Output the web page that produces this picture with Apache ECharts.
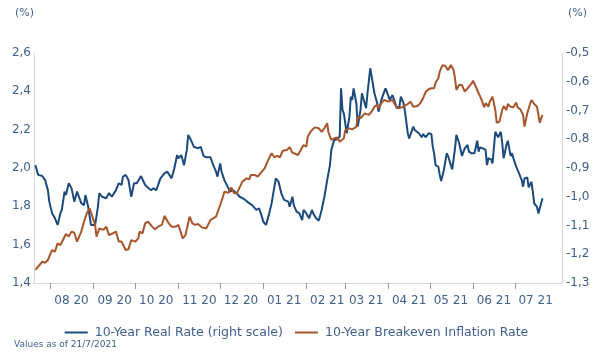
<!DOCTYPE html>
<html>
<head>
<meta charset="utf-8">
<script src="https://cdn.jsdelivr.net/npm/echarts@6/dist/echarts.min.js"></script>
<style>html,body{margin:0;padding:0;background:#fff;}#c{width:593px;height:356px;}</style>
</head>
<body>
<div id="c"></div>
<script>
// ---- data ----
var axisStart = '2020-07-20';
var axisEnd = '2021-08-04';
var leftTicks = [1.4, 1.6, 1.8, 2.0, 2.2, 2.4, 2.6];
var rightTicks = [-1.3, -1.2, -1.1, -1.0, -0.9, -0.8, -0.7, -0.6, -0.5];
var seriesNames = ['10-Year Real Rate (right scale)', '10-Year Breakeven Inflation Rate'];

var realDates = ['2020-07-21','2020-07-23','2020-07-26','2020-07-28','2020-07-30','2020-07-31','2020-08-02','2020-08-04','2020-08-06','2020-08-08','2020-08-09','2020-08-11','2020-08-12','2020-08-14','2020-08-16','2020-08-18','2020-08-20','2020-08-23','2020-08-25','2020-08-26','2020-08-28','2020-08-30','2020-09-02','2020-09-04','2020-09-05','2020-09-07','2020-09-10','2020-09-12','2020-09-14','2020-09-17','2020-09-19','2020-09-21','2020-09-22','2020-09-24','2020-09-26','2020-09-28','2020-09-30','2020-10-02','2020-10-05','2020-10-08','2020-10-12','2020-10-14','2020-10-16','2020-10-19','2020-10-22','2020-10-24','2020-10-27','2020-10-29','2020-10-31','2020-11-01','2020-11-03','2020-11-05','2020-11-07','2020-11-08','2020-11-10','2020-11-12','2020-11-15','2020-11-17','2020-11-19','2020-11-21','2020-11-24','2020-11-26','2020-11-28','2020-11-29','2020-12-01','2020-12-02','2020-12-04','2020-12-05','2020-12-07','2020-12-08','2020-12-10','2020-12-13','2020-12-15','2020-12-17','2020-12-19','2020-12-22','2020-12-24','2020-12-27','2020-12-29','2020-12-31','2021-01-01','2021-01-03','2021-01-05','2021-01-07','2021-01-08','2021-01-10','2021-01-12','2021-01-14','2021-01-16','2021-01-19','2021-01-20','2021-01-22','2021-01-23','2021-01-25','2021-01-27','2021-01-29','2021-01-30','2021-02-01','2021-02-03','2021-02-05','2021-02-06','2021-02-08','2021-02-10','2021-02-12','2021-02-14','2021-02-16','2021-02-18','2021-02-19','2021-02-21','2021-02-23','2021-02-25','2021-02-26','2021-02-27','2021-02-28','2021-03-02','2021-03-04','2021-03-05','2021-03-06','2021-03-07','2021-03-09','2021-03-10','2021-03-12','2021-03-13','2021-03-15','2021-03-16','2021-03-17','2021-03-19','2021-03-20','2021-03-22','2021-03-23','2021-03-24','2021-03-25','2021-03-27','2021-03-29','2021-03-30','2021-03-31','2021-04-02','2021-04-04','2021-04-06','2021-04-07','2021-04-09','2021-04-10','2021-04-12','2021-04-13','2021-04-14','2021-04-15','2021-04-16','2021-04-19','2021-04-20','2021-04-23','2021-04-25','2021-04-26','2021-04-28','2021-04-30','2021-05-02','2021-05-03','2021-05-04','2021-05-05','2021-05-07','2021-05-08','2021-05-09','2021-05-11','2021-05-13','2021-05-14','2021-05-16','2021-05-17','2021-05-19','2021-05-20','2021-05-22','2021-05-24','2021-05-26','2021-05-28','2021-05-29','2021-05-31','2021-06-02','2021-06-04','2021-06-05','2021-06-06','2021-06-08','2021-06-10','2021-06-11','2021-06-12','2021-06-14','2021-06-15','2021-06-17','2021-06-18','2021-06-19','2021-06-21','2021-06-22','2021-06-23','2021-06-25','2021-06-26','2021-06-28','2021-06-29','2021-06-30','2021-07-01','2021-07-02','2021-07-04','2021-07-06','2021-07-07','2021-07-08','2021-07-10','2021-07-11','2021-07-13','2021-07-14','2021-07-15','2021-07-17','2021-07-18','2021-07-19','2021-07-20','2021-07-21'];
var realValues = [-0.890,-0.924,-0.928,-0.942,-0.977,-1.017,-1.057,-1.074,-1.098,-1.057,-1.046,-0.982,-0.994,-0.953,-0.970,-1.017,-0.982,-1.022,-1.029,-0.994,-1.035,-1.098,-1.098,-1.035,-0.987,-1.000,-1.005,-0.987,-1.000,-0.977,-0.953,-0.959,-0.930,-0.924,-0.942,-1.000,-0.953,-0.953,-0.928,-0.959,-0.977,-0.971,-0.977,-0.936,-0.918,-0.913,-0.936,-0.901,-0.855,-0.866,-0.855,-0.890,-0.837,-0.785,-0.803,-0.826,-0.832,-0.826,-0.858,-0.863,-0.863,-0.890,-0.913,-0.930,-0.884,-0.913,-0.942,-0.936,-0.971,-0.982,-0.977,-0.988,-1.000,-1.005,-1.011,-1.023,-1.029,-1.046,-1.040,-1.069,-1.087,-1.098,-1.063,-1.023,-1.023,-0.936,-0.948,-0.988,-1.011,-1.017,-1.035,-1.000,-1.030,-1.052,-1.058,-1.081,-1.046,-1.058,-1.075,-1.046,-1.058,-1.075,-1.083,-1.046,-1.000,-0.942,-0.890,-0.837,-0.803,-0.800,-0.791,-0.623,-0.698,-0.710,-0.779,-0.722,-0.652,-0.663,-0.623,-0.675,-0.756,-0.698,-0.640,-0.675,-0.692,-0.640,-0.553,-0.582,-0.640,-0.646,-0.675,-0.704,-0.663,-0.635,-0.623,-0.635,-0.663,-0.646,-0.675,-0.692,-0.687,-0.652,-0.675,-0.704,-0.704,-0.779,-0.797,-0.756,-0.768,-0.779,-0.793,-0.782,-0.793,-0.779,-0.782,-0.826,-0.849,-0.890,-0.895,-0.924,-0.945,-0.907,-0.849,-0.858,-0.890,-0.905,-0.832,-0.785,-0.814,-0.858,-0.832,-0.820,-0.843,-0.849,-0.849,-0.805,-0.843,-0.828,-0.832,-0.837,-0.890,-0.866,-0.870,-0.884,-0.774,-0.768,-0.793,-0.774,-0.814,-0.866,-0.820,-0.805,-0.858,-0.849,-0.866,-0.872,-0.895,-0.918,-0.942,-0.965,-0.936,-0.933,-0.967,-0.948,-0.982,-1.023,-1.035,-1.058,-1.060,-1.023,-1.005];

var beDates = ['2020-07-21','2020-07-24','2020-07-26','2020-07-28','2020-07-30','2020-07-31','2020-08-02','2020-08-04','2020-08-06','2020-08-08','2020-08-09','2020-08-12','2020-08-14','2020-08-16','2020-08-18','2020-08-20','2020-08-23','2020-08-25','2020-08-27','2020-08-29','2020-08-31','2020-09-02','2020-09-03','2020-09-05','2020-09-08','2020-09-10','2020-09-12','2020-09-14','2020-09-17','2020-09-19','2020-09-21','2020-09-22','2020-09-24','2020-09-26','2020-09-28','2020-10-01','2020-10-03','2020-10-04','2020-10-06','2020-10-08','2020-10-10','2020-10-13','2020-10-15','2020-10-18','2020-10-20','2020-10-22','2020-10-25','2020-10-27','2020-10-30','2020-11-01','2020-11-02','2020-11-04','2020-11-06','2020-11-07','2020-11-09','2020-11-11','2020-11-13','2020-11-15','2020-11-18','2020-11-21','2020-11-24','2020-11-26','2020-11-28','2020-12-01','2020-12-03','2020-12-04','2020-12-07','2020-12-09','2020-12-11','2020-12-13','2020-12-15','2020-12-17','2020-12-20','2020-12-22','2020-12-23','2020-12-26','2020-12-28','2020-12-31','2021-01-02','2021-01-04','2021-01-07','2021-01-09','2021-01-11','2021-01-13','2021-01-15','2021-01-18','2021-01-20','2021-01-22','2021-01-23','2021-01-26','2021-01-28','2021-01-30','2021-02-01','2021-02-02','2021-02-04','2021-02-05','2021-02-07','2021-02-10','2021-02-12','2021-02-14','2021-02-16','2021-02-17','2021-02-19','2021-02-21','2021-02-23','2021-02-25','2021-02-28','2021-03-01','2021-03-04','2021-03-06','2021-03-09','2021-03-10','2021-03-12','2021-03-15','2021-03-16','2021-03-18','2021-03-20','2021-03-22','2021-03-24','2021-03-25','2021-03-27','2021-03-29','2021-03-30','2021-04-01','2021-04-04','2021-04-06','2021-04-08','2021-04-11','2021-04-14','2021-04-17','2021-04-19','2021-04-22','2021-04-24','2021-04-26','2021-04-28','2021-04-30','2021-05-02','2021-05-04','2021-05-05','2021-05-06','2021-05-07','2021-05-08','2021-05-10','2021-05-12','2021-05-13','2021-05-14','2021-05-16','2021-05-18','2021-05-19','2021-05-20','2021-05-22','2021-05-24','2021-05-26','2021-05-28','2021-05-29','2021-05-31','2021-06-01','2021-06-03','2021-06-05','2021-06-07','2021-06-09','2021-06-10','2021-06-12','2021-06-13','2021-06-15','2021-06-17','2021-06-18','2021-06-20','2021-06-22','2021-06-23','2021-06-25','2021-06-26','2021-06-28','2021-06-30','2021-07-02','2021-07-03','2021-07-05','2021-07-07','2021-07-08','2021-07-10','2021-07-12','2021-07-13','2021-07-15','2021-07-17','2021-07-18','2021-07-19','2021-07-20','2021-07-21'];
var beValues = [1.468,1.494,1.511,1.506,1.520,1.537,1.572,1.563,1.607,1.598,1.598,1.656,1.642,1.668,1.662,1.616,1.668,1.720,1.764,1.790,1.746,1.703,1.642,1.685,1.677,1.694,1.650,1.656,1.668,1.616,1.616,1.607,1.572,1.576,1.624,1.616,1.633,1.668,1.659,1.711,1.720,1.694,1.680,1.697,1.703,1.750,1.711,1.694,1.694,1.703,1.703,1.633,1.650,1.650,1.746,1.711,1.703,1.708,1.690,1.685,1.729,1.737,1.746,1.807,1.850,1.876,1.871,1.899,1.868,1.868,1.899,1.929,1.946,1.941,1.963,1.963,1.955,1.981,1.998,2.033,2.077,2.056,2.063,2.056,2.090,2.094,2.108,2.080,2.077,2.068,2.094,2.120,2.111,2.163,2.189,2.181,2.212,2.207,2.189,2.207,2.233,2.184,2.146,2.155,2.160,2.137,2.155,2.198,2.207,2.202,2.215,2.268,2.259,2.285,2.294,2.277,2.294,2.320,2.329,2.311,2.338,2.355,2.351,2.346,2.355,2.329,2.311,2.317,2.329,2.346,2.320,2.323,2.338,2.364,2.398,2.411,2.416,2.416,2.445,2.442,2.468,2.503,2.537,2.532,2.537,2.511,2.537,2.511,2.468,2.407,2.433,2.433,2.398,2.416,2.424,2.442,2.455,2.424,2.390,2.358,2.317,2.338,2.320,2.346,2.372,2.303,2.236,2.242,2.303,2.323,2.303,2.334,2.320,2.317,2.341,2.317,2.306,2.277,2.216,2.285,2.334,2.355,2.334,2.320,2.323,2.236,2.259,2.277];

// ---- build ----
function isoDay(t){ return new Date(t).toISOString().slice(0,10); }
var categories = [];
(function(){
  var s = Date.parse(axisStart + 'T00:00:00Z'), e = Date.parse(axisEnd + 'T00:00:00Z');
  for (var t = s; t <= e; t += 86400000) categories.push(isoDay(t));
})();
function pairs(d, v){ return d.map(function(x,i){ return [x, v[i]]; }); }
function fmt(v){ return v.toFixed(1).replace('.', ','); }
function isMonthStart(v){ return v.slice(8) === '01' && v.slice(0,7) !== '2021-08'; }

var txt = '#3f5f8c';
var axisGrey = '#d9d9d9';
var tickGrey = '#9a9a9a';
var font = 'DejaVu Sans';

var chart = echarts.init(document.getElementById('c'), null, {renderer:'canvas'});
chart.setOption({
  animation: false,
  backgroundColor: '#ffffff',
  textStyle: {fontFamily: font},
  grid: {left: 34, right: 31, top: 53, bottom: 73, containLabel: false},
  legend: {
    top: 321, left: 'center', itemGap: 12,
    icon: 'rect', itemWidth: 23, itemHeight: 2,
    textStyle: {color: txt, fontSize: 12.5, fontFamily: font, padding: [0,0,0,2]},
    data: seriesNames
  },
  graphic: [
    {type:'text', left: 15, top: 8, style:{text:'(%)', fill: txt, font: '11px "' + font + '"'}},
    {type:'text', left: 568, top: 8, style:{text:'(%)', fill: txt, font: '11px "' + font + '"'}},
    {type:'text', left: 14, top: 340, style:{text:'Values as of 21/7/2021', fill: txt, font: '9px "' + font + '"'}}
  ],
  xAxis: {
    type: 'category', data: categories, boundaryGap: false,
    axisLine: {show: true, lineStyle: {color: axisGrey, width: 1}},
    axisTick: {show: true, length: 6, lineStyle: {color: tickGrey, width: 1},
      interval: function(i, v){ return isMonthStart(categories[i] || v); }},
    axisLabel: {color: txt, fontSize: 12, margin: 12, hideOverlap: false,
      interval: function(i, v){ return (categories[i] || v).slice(8) === '16'; },
      formatter: function(v){ return v.slice(5,7) + ' ' + v.slice(2,4); }},
    splitLine: {show: false}
  },
  yAxis: [
    {type:'value', min: leftTicks[0], max: leftTicks[leftTicks.length-1], interval: 0.2, position:'left',
     axisLine:{show:true, lineStyle:{color: axisGrey}}, axisTick:{show:false}, splitLine:{show:false},
     axisLabel:{color: txt, fontSize: 12, margin: 3, formatter: fmt}},
    {type:'value', min: rightTicks[0], max: rightTicks[rightTicks.length-1], interval: 0.1, position:'right',
     axisLine:{show:true, lineStyle:{color: axisGrey}}, axisTick:{show:false}, splitLine:{show:false},
     axisLabel:{color: txt, fontSize: 12, margin: 4, formatter: fmt}}
  ],
  series: [
    {name: seriesNames[0], type:'line', yAxisIndex: 1, data: pairs(realDates, realValues),
     showSymbol:false, connectNulls:true, color:'#1b4a7d', lineStyle:{width:2, color:'#1b4a7d'}},
    {name: seriesNames[1], type:'line', yAxisIndex: 0, data: pairs(beDates, beValues),
     showSymbol:false, connectNulls:true, color:'#a9552c', lineStyle:{width:2, color:'#a9552c'}}
  ]
});
</script>
</body>
</html>
